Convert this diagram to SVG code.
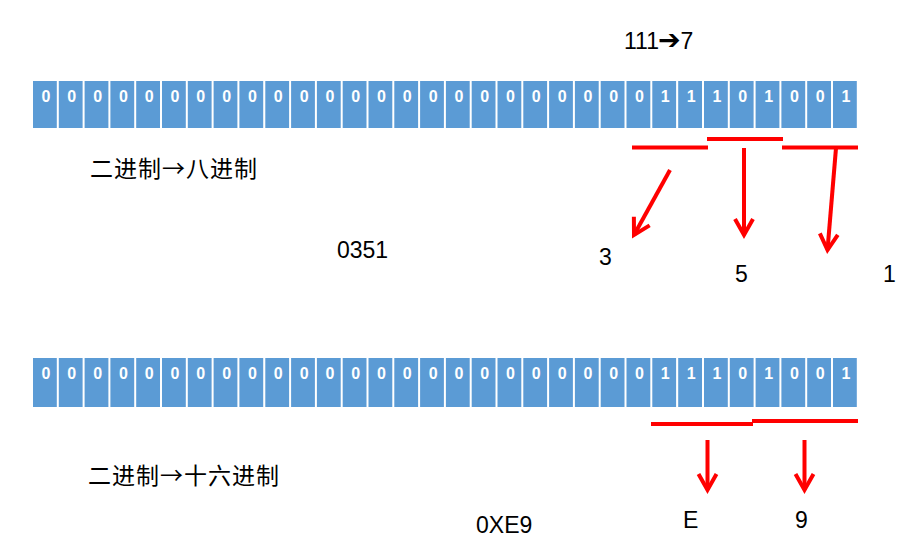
<svg xmlns="http://www.w3.org/2000/svg" width="922" height="556" viewBox="0 0 922 556">
<style>
.c{fill:#5B9BD5}
.b{fill:#fff;font-family:"Liberation Sans",Arial,sans-serif;font-weight:bold;font-size:16px;text-anchor:middle}
.t{fill:#000;font-family:"Liberation Sans",Arial,sans-serif;font-size:23px}
.z{fill:#000;font-family:"Noto Sans CJK SC","Liberation Sans",sans-serif;font-size:23px;letter-spacing:1px}
.r{stroke:#FF0000;stroke-width:4;fill:none}
</style>
<defs>
<marker id="ah" markerUnits="userSpaceOnUse" markerWidth="40" markerHeight="40" viewBox="-20 -20 40 40" refX="0" refY="0" orient="auto">
<path d="M-16,-9 L0,0 L-16,9" fill="none" stroke="#FF0000" stroke-width="4" stroke-linejoin="miter"/>
</marker>
</defs>
<rect width="922" height="556" fill="#fff"/>
<g id="row1">
<rect class="c" x="33.0" y="81" width="23.8" height="47"/><text class="b" x="46.0" y="102">0</text>
<rect class="c" x="58.8" y="81" width="23.8" height="47"/><text class="b" x="71.8" y="102">0</text>
<rect class="c" x="84.6" y="81" width="23.8" height="47"/><text class="b" x="97.6" y="102">0</text>
<rect class="c" x="110.4" y="81" width="23.8" height="47"/><text class="b" x="123.4" y="102">0</text>
<rect class="c" x="136.2" y="81" width="23.8" height="47"/><text class="b" x="149.2" y="102">0</text>
<rect class="c" x="162.0" y="81" width="23.8" height="47"/><text class="b" x="175.0" y="102">0</text>
<rect class="c" x="187.8" y="81" width="23.8" height="47"/><text class="b" x="200.8" y="102">0</text>
<rect class="c" x="213.6" y="81" width="23.8" height="47"/><text class="b" x="226.6" y="102">0</text>
<rect class="c" x="239.4" y="81" width="23.8" height="47"/><text class="b" x="252.4" y="102">0</text>
<rect class="c" x="265.3" y="81" width="23.8" height="47"/><text class="b" x="278.3" y="102">0</text>
<rect class="c" x="291.1" y="81" width="23.8" height="47"/><text class="b" x="304.1" y="102">0</text>
<rect class="c" x="316.9" y="81" width="23.8" height="47"/><text class="b" x="329.9" y="102">0</text>
<rect class="c" x="342.7" y="81" width="23.8" height="47"/><text class="b" x="355.7" y="102">0</text>
<rect class="c" x="368.5" y="81" width="23.8" height="47"/><text class="b" x="381.5" y="102">0</text>
<rect class="c" x="394.3" y="81" width="23.8" height="47"/><text class="b" x="407.3" y="102">0</text>
<rect class="c" x="420.1" y="81" width="23.8" height="47"/><text class="b" x="433.1" y="102">0</text>
<rect class="c" x="445.9" y="81" width="23.8" height="47"/><text class="b" x="458.9" y="102">0</text>
<rect class="c" x="471.7" y="81" width="23.8" height="47"/><text class="b" x="484.7" y="102">0</text>
<rect class="c" x="497.5" y="81" width="23.8" height="47"/><text class="b" x="510.5" y="102">0</text>
<rect class="c" x="523.3" y="81" width="23.8" height="47"/><text class="b" x="536.3" y="102">0</text>
<rect class="c" x="549.1" y="81" width="23.8" height="47"/><text class="b" x="562.1" y="102">0</text>
<rect class="c" x="574.9" y="81" width="23.8" height="47"/><text class="b" x="587.9" y="102">0</text>
<rect class="c" x="600.7" y="81" width="23.8" height="47"/><text class="b" x="613.7" y="102">0</text>
<rect class="c" x="626.5" y="81" width="23.8" height="47"/><text class="b" x="639.5" y="102">0</text>
<rect class="c" x="652.3" y="81" width="23.8" height="47"/><text class="b" x="665.3" y="102">1</text>
<rect class="c" x="678.2" y="81" width="23.8" height="47"/><text class="b" x="691.2" y="102">1</text>
<rect class="c" x="704.0" y="81" width="23.8" height="47"/><text class="b" x="717.0" y="102">1</text>
<rect class="c" x="729.8" y="81" width="23.8" height="47"/><text class="b" x="742.8" y="102">0</text>
<rect class="c" x="755.6" y="81" width="23.8" height="47"/><text class="b" x="768.6" y="102">1</text>
<rect class="c" x="781.4" y="81" width="23.8" height="47"/><text class="b" x="794.4" y="102">0</text>
<rect class="c" x="807.2" y="81" width="23.8" height="47"/><text class="b" x="820.2" y="102">0</text>
<rect class="c" x="833.0" y="81" width="23.8" height="47"/><text class="b" x="846.0" y="102">1</text>
</g>
<g id="row2">
<rect class="c" x="33.0" y="358" width="23.8" height="49"/><text class="b" x="46.0" y="379">0</text>
<rect class="c" x="58.8" y="358" width="23.8" height="49"/><text class="b" x="71.8" y="379">0</text>
<rect class="c" x="84.6" y="358" width="23.8" height="49"/><text class="b" x="97.6" y="379">0</text>
<rect class="c" x="110.4" y="358" width="23.8" height="49"/><text class="b" x="123.4" y="379">0</text>
<rect class="c" x="136.2" y="358" width="23.8" height="49"/><text class="b" x="149.2" y="379">0</text>
<rect class="c" x="162.0" y="358" width="23.8" height="49"/><text class="b" x="175.0" y="379">0</text>
<rect class="c" x="187.8" y="358" width="23.8" height="49"/><text class="b" x="200.8" y="379">0</text>
<rect class="c" x="213.6" y="358" width="23.8" height="49"/><text class="b" x="226.6" y="379">0</text>
<rect class="c" x="239.4" y="358" width="23.8" height="49"/><text class="b" x="252.4" y="379">0</text>
<rect class="c" x="265.3" y="358" width="23.8" height="49"/><text class="b" x="278.3" y="379">0</text>
<rect class="c" x="291.1" y="358" width="23.8" height="49"/><text class="b" x="304.1" y="379">0</text>
<rect class="c" x="316.9" y="358" width="23.8" height="49"/><text class="b" x="329.9" y="379">0</text>
<rect class="c" x="342.7" y="358" width="23.8" height="49"/><text class="b" x="355.7" y="379">0</text>
<rect class="c" x="368.5" y="358" width="23.8" height="49"/><text class="b" x="381.5" y="379">0</text>
<rect class="c" x="394.3" y="358" width="23.8" height="49"/><text class="b" x="407.3" y="379">0</text>
<rect class="c" x="420.1" y="358" width="23.8" height="49"/><text class="b" x="433.1" y="379">0</text>
<rect class="c" x="445.9" y="358" width="23.8" height="49"/><text class="b" x="458.9" y="379">0</text>
<rect class="c" x="471.7" y="358" width="23.8" height="49"/><text class="b" x="484.7" y="379">0</text>
<rect class="c" x="497.5" y="358" width="23.8" height="49"/><text class="b" x="510.5" y="379">0</text>
<rect class="c" x="523.3" y="358" width="23.8" height="49"/><text class="b" x="536.3" y="379">0</text>
<rect class="c" x="549.1" y="358" width="23.8" height="49"/><text class="b" x="562.1" y="379">0</text>
<rect class="c" x="574.9" y="358" width="23.8" height="49"/><text class="b" x="587.9" y="379">0</text>
<rect class="c" x="600.7" y="358" width="23.8" height="49"/><text class="b" x="613.7" y="379">0</text>
<rect class="c" x="626.5" y="358" width="23.8" height="49"/><text class="b" x="639.5" y="379">0</text>
<rect class="c" x="652.3" y="358" width="23.8" height="49"/><text class="b" x="665.3" y="379">1</text>
<rect class="c" x="678.2" y="358" width="23.8" height="49"/><text class="b" x="691.2" y="379">1</text>
<rect class="c" x="704.0" y="358" width="23.8" height="49"/><text class="b" x="717.0" y="379">1</text>
<rect class="c" x="729.8" y="358" width="23.8" height="49"/><text class="b" x="742.8" y="379">0</text>
<rect class="c" x="755.6" y="358" width="23.8" height="49"/><text class="b" x="768.6" y="379">1</text>
<rect class="c" x="781.4" y="358" width="23.8" height="49"/><text class="b" x="794.4" y="379">0</text>
<rect class="c" x="807.2" y="358" width="23.8" height="49"/><text class="b" x="820.2" y="379">0</text>
<rect class="c" x="833.0" y="358" width="23.8" height="49"/><text class="b" x="846.0" y="379">1</text>
</g>
<g id="labels">
<text class="t" x="624" y="49">111<tspan font-family="'DejaVu Sans',sans-serif" font-weight="bold" font-size="27px" dx="-1">➔</tspan>7</text>
<text class="z" x="90" y="177">二进制→八进制</text>
<text class="t" x="337" y="258">0351</text>
<text class="t" x="599" y="265">3</text>
<text class="t" x="735" y="282">5</text>
<text class="t" x="883" y="282">1</text>
<text class="z" x="88" y="484">二进制→十六进制</text>
<text class="t" x="476" y="533">0XE9</text>
<text class="t" x="683" y="528">E</text>
<text class="t" x="795" y="528">9</text>
</g>
<g id="connectors">
<line class="r" x1="632" y1="147.5" x2="708" y2="147.5"/>
<line class="r" x1="707" y1="139" x2="783" y2="139"/>
<line class="r" x1="782" y1="147.5" x2="858" y2="147.5"/>
<line class="r" x1="670" y1="170" x2="634" y2="235" marker-end="url(#ah)"/>
<line class="r" x1="744" y1="148" x2="744" y2="235" marker-end="url(#ah)"/>
<line class="r" x1="836" y1="148" x2="827.5" y2="250" marker-end="url(#ah)"/>
<line class="r" x1="651" y1="424" x2="753" y2="424"/>
<line class="r" x1="752" y1="421" x2="858" y2="421"/>
<line class="r" x1="707.5" y1="440" x2="707.5" y2="490" marker-end="url(#ah)"/>
<line class="r" x1="804.5" y1="440" x2="804.5" y2="490" marker-end="url(#ah)"/>
</g>
</svg>
